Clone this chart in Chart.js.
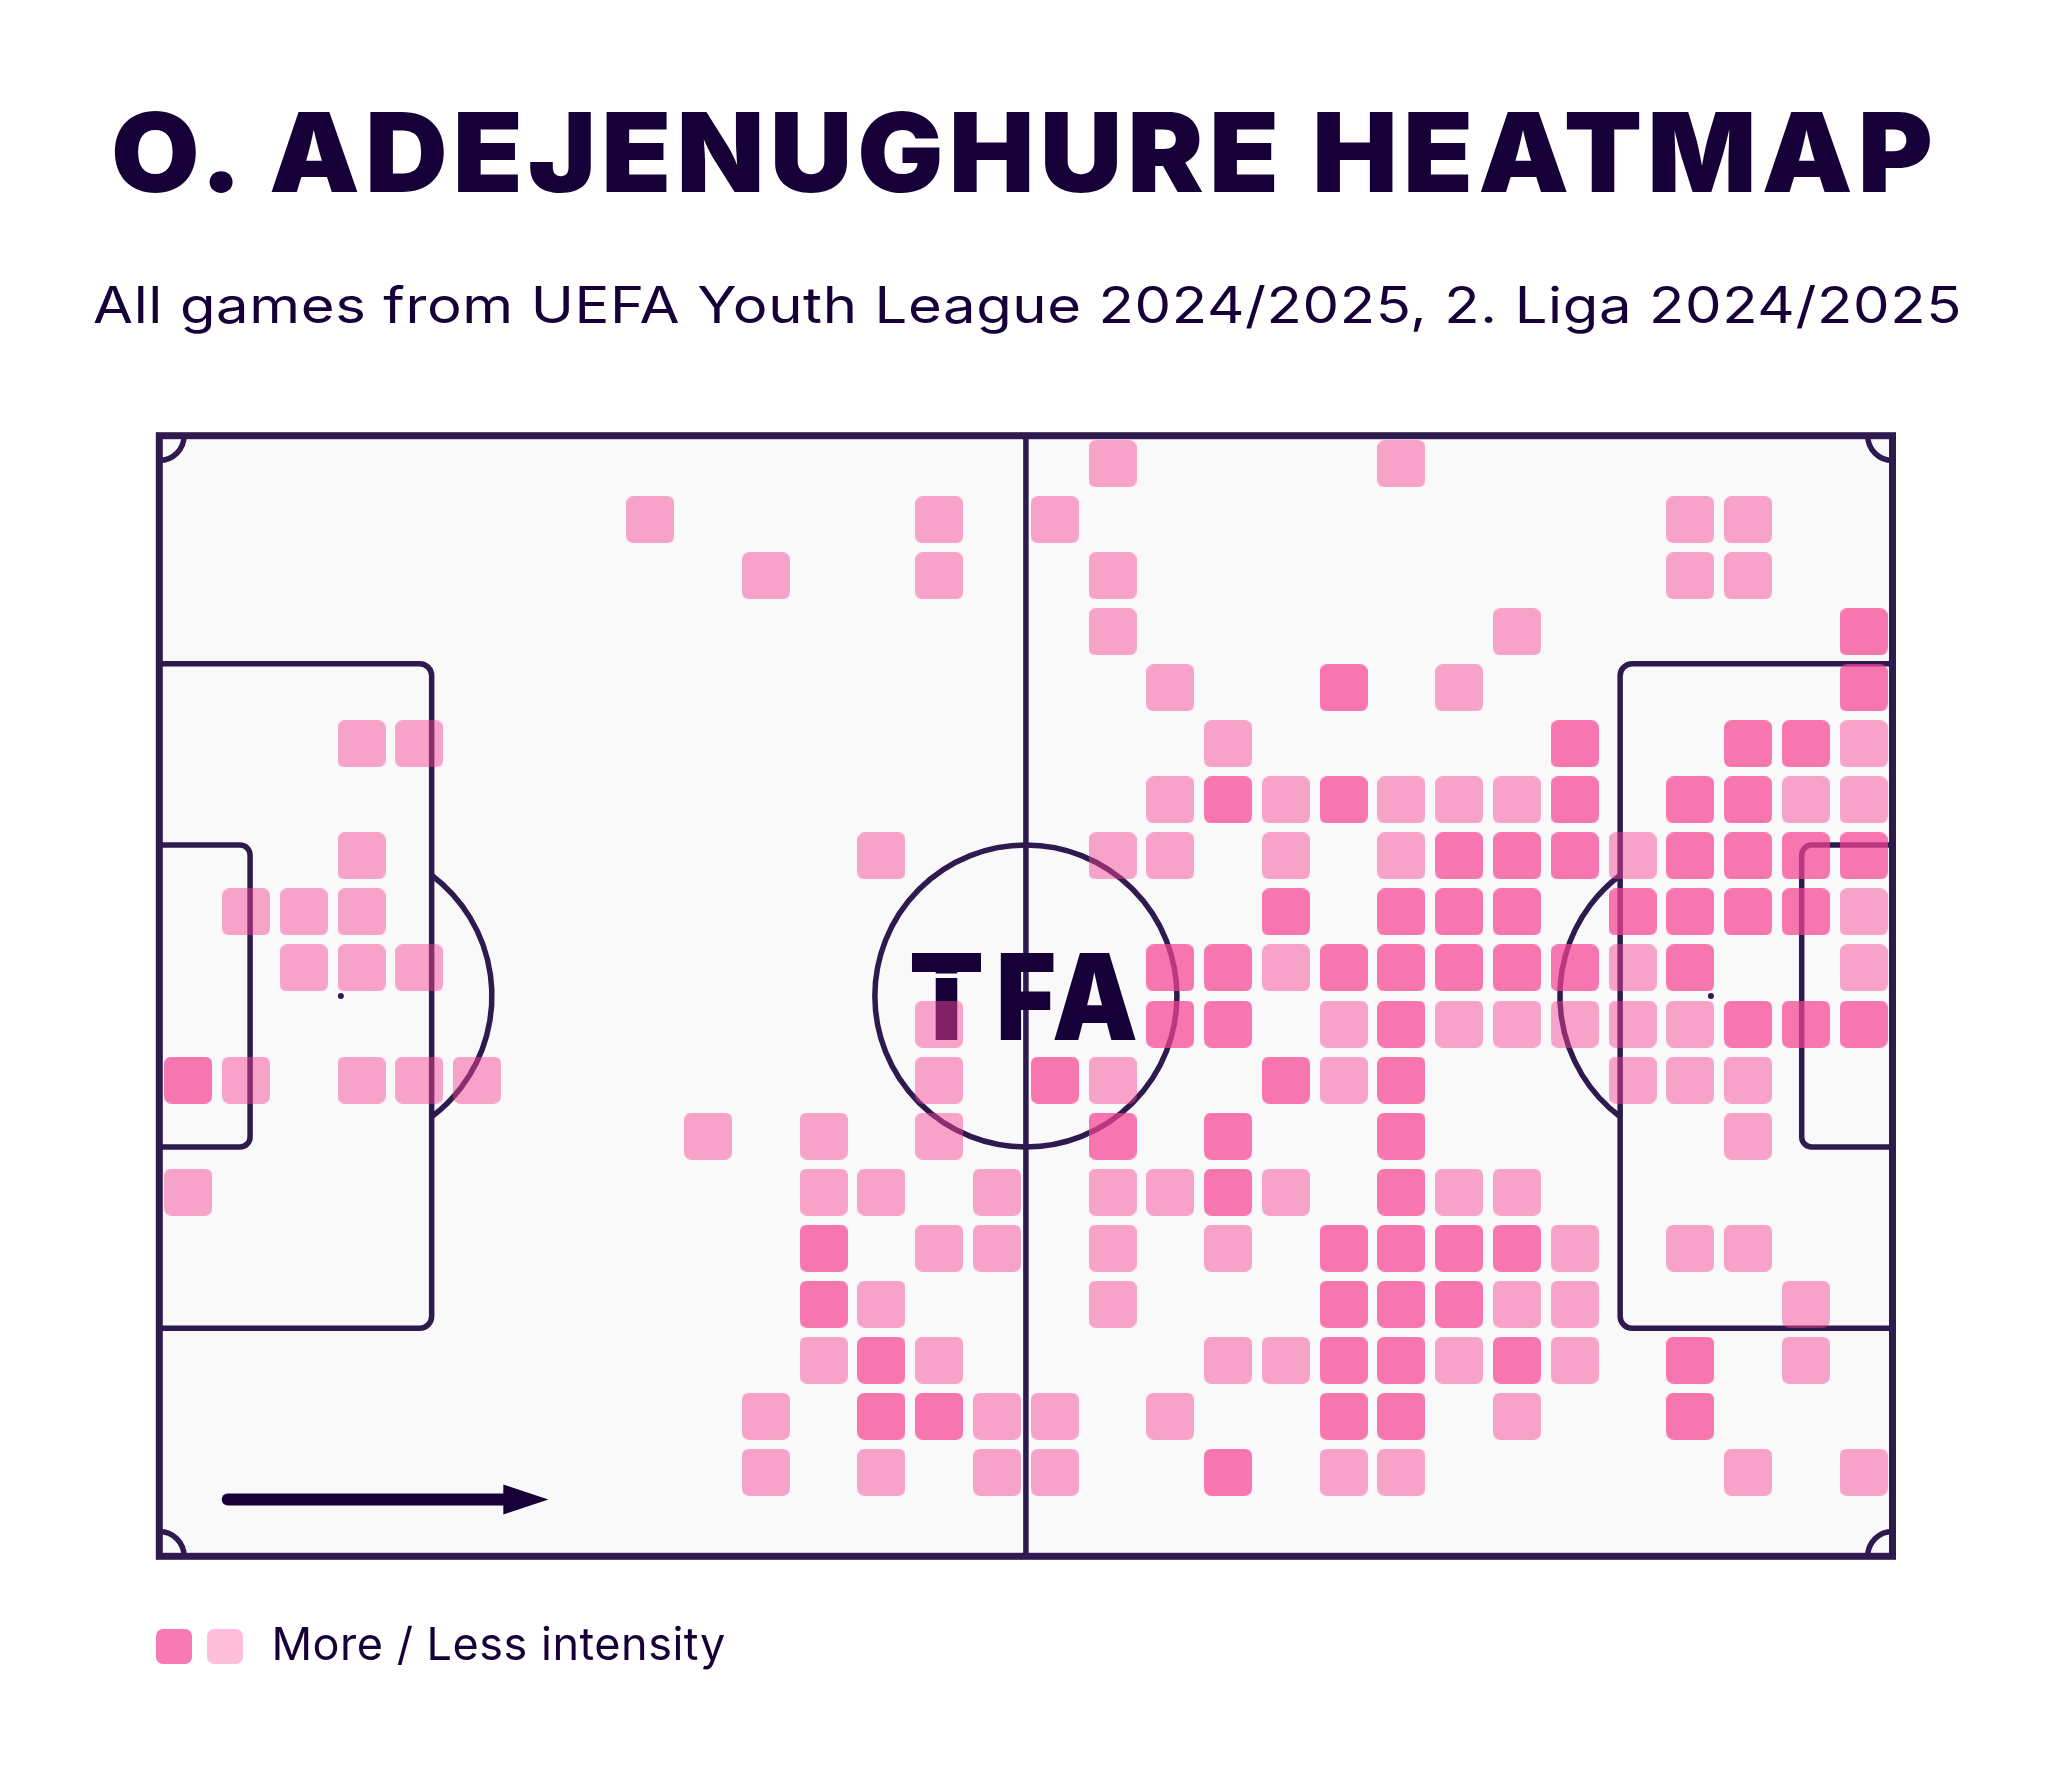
<!DOCTYPE html>
<html>
<head>
<meta charset="utf-8">
<script src="https://cdn.jsdelivr.net/npm/chart.js@4.4.1/dist/chart.umd.min.js"></script>
<style>
html,body{margin:0;padding:0;background:#ffffff;width:2052px;height:1779px;overflow:hidden;}
#wrap{position:relative;width:2052px;height:1779px;}
#c{position:absolute;left:0;top:0;}
.txt{position:absolute;white-space:nowrap;color:#170038;font-family:Inter,"Noto Sans",sans-serif;line-height:1;transform-origin:0 0;}
#title{font-weight:900;font-size:110px;}
#subtitle{font-weight:400;font-size:50px;}
#legendText{font-weight:400;font-size:45px;}
.sw{position:absolute;width:36px;height:35px;border-radius:7px;}
</style>
</head>
<body>
<div id="wrap">
  <canvas id="c" width="2052" height="1779"></canvas>
  <div id="title" class="txt">O. ADEJENUGHURE HEATMAP</div>
  <div id="subtitle" class="txt">All games from UEFA Youth League 2024/2025, 2. Liga 2024/2025</div>
  <div class="sw" style="left:156px;top:1629px;background:#f87ab4"></div>
  <div class="sw" style="left:207px;top:1629px;background:#fdbfdb"></div>
  <div id="legendText" class="txt">More / Less intensity</div>
</div>
<script>
// ---------------- DATA ----------------
const pitchLength = 105;   // metres
const pitchWidth = 68;     // metres
const gridCols = 30;
const gridRows = 20;

// column indices (0 = left goal line) of high-intensity cells, one list per row (0 = top)
const moreCells = [
  [], [], [],
  [29],
  [20, 29],
  [24, 27, 28],
  [18, 20, 24, 26, 27],
  [22, 23, 24, 26, 27, 28, 29],
  [19, 21, 22, 23, 25, 26, 27, 28],
  [17, 18, 20, 21, 22, 23, 24, 26],
  [17, 18, 21, 27, 28, 29],
  [0, 15, 19, 21],
  [16, 18, 21],
  [18, 21],
  [11, 20, 21, 22, 23],
  [11, 20, 21, 22],
  [12, 20, 21, 23, 26],
  [12, 13, 20, 21, 26],
  [18]
];

// column indices of low-intensity cells, one list per row
const lessCells = [
  [16, 21],
  [8, 13, 15, 26, 27],
  [10, 13, 16, 26, 27],
  [16, 23],
  [17, 22],
  [3, 4, 18, 29],
  [17, 19, 21, 22, 23, 28, 29],
  [3, 12, 16, 17, 19, 21, 25],
  [1, 2, 3, 29],
  [2, 3, 4, 19, 25, 29],
  [13, 20, 22, 23, 24, 25, 26],
  [1, 3, 4, 5, 13, 16, 20, 25, 26, 27],
  [9, 11, 13, 27],
  [0, 11, 12, 14, 16, 17, 19, 22, 23],
  [13, 14, 16, 18, 24, 26, 27],
  [12, 16, 23, 24, 28],
  [11, 13, 18, 19, 22, 24, 28],
  [10, 14, 15, 17, 23],
  [10, 12, 14, 15, 20, 21, 27, 29]
];

// ---------------- STYLE ----------------
const LINE = '#2e1a4f';
const INK = '#170038';
const PITCH_BG = '#f9f9f9';

function toPoints(rows) {
  const pts = [];
  rows.forEach((cols, r) => cols.forEach(c => {
    pts.push({ x: (c + 0.5) * pitchLength / gridCols, y: (r + 0.5) * pitchWidth / gridRows });
  }));
  return pts;
}

function cellImage(color, w, h, rad) {
  const cv = document.createElement('canvas');
  cv.width = w; cv.height = h;
  const g = cv.getContext('2d');
  g.fillStyle = color;
  g.beginPath();
  g.moveTo(rad, 0);
  g.lineTo(w - rad, 0);
  g.quadraticCurveTo(w, 0, w, rad);
  g.lineTo(w, h - rad);
  g.quadraticCurveTo(w, h, w - rad, h);
  g.lineTo(rad, h);
  g.quadraticCurveTo(0, h, 0, h - rad);
  g.lineTo(0, rad);
  g.quadraticCurveTo(0, 0, rad, 0);
  g.closePath();
  g.fill();
  return cv;
}

const pitchPlugin = {
  id: 'pitch',
  beforeDatasetsDraw(chart) {
    const ctx = chart.ctx;
    const xs = chart.scales.x, ys = chart.scales.y;
    const X = v => xs.getPixelForValue(v);
    const Y = v => ys.getPixelForValue(v);
    const mx = (X(pitchLength) - X(0)) / pitchLength;
    const L = pitchLength, W = pitchWidth, cx = L / 2, cy = W / 2;

    ctx.save();
    ctx.fillStyle = PITCH_BG;
    ctx.fillRect(X(0), Y(0), X(L) - X(0), Y(W) - Y(0));

    ctx.strokeStyle = LINE;
    ctx.lineWidth = 5.5;
    ctx.lineCap = 'butt';

    // halfway line
    ctx.beginPath(); ctx.moveTo(X(cx), Y(0)); ctx.lineTo(X(cx), Y(W)); ctx.stroke();
    // centre circle
    ctx.beginPath(); ctx.arc(X(cx), Y(cy), 9.15 * mx, 0, Math.PI * 2); ctx.stroke();
    ctx.fillStyle = LINE;
    ctx.beginPath(); ctx.arc(X(cx), Y(cy), 4, 0, Math.PI * 2); ctx.fill();

    function box(depth, halfW, r) {
      ctx.beginPath();
      ctx.moveTo(X(0), Y(cy - halfW));
      ctx.arcTo(X(depth), Y(cy - halfW), X(depth), Y(cy + halfW), r);
      ctx.arcTo(X(depth), Y(cy + halfW), X(0), Y(cy + halfW), r);
      ctx.lineTo(X(0), Y(cy + halfW));
      ctx.stroke();
      ctx.beginPath();
      ctx.moveTo(X(L), Y(cy - halfW));
      ctx.arcTo(X(L - depth), Y(cy - halfW), X(L - depth), Y(cy + halfW), r);
      ctx.arcTo(X(L - depth), Y(cy + halfW), X(L), Y(cy + halfW), r);
      ctx.lineTo(X(L), Y(cy + halfW));
      ctx.stroke();
    }
    box(16.5, 20.16, 12);
    box(5.5, 9.16, 10);

    // penalty spots
    ctx.beginPath(); ctx.arc(X(11), Y(cy), 3, 0, Math.PI * 2); ctx.fill();
    ctx.beginPath(); ctx.arc(X(L - 11), Y(cy), 3, 0, Math.PI * 2); ctx.fill();
    // penalty arcs
    const a = Math.acos(5.5 / 9.15);
    ctx.beginPath(); ctx.arc(X(11), Y(cy), 9.15 * mx, -a, a); ctx.stroke();
    ctx.beginPath(); ctx.arc(X(L - 11), Y(cy), 9.15 * mx, Math.PI - a, Math.PI + a); ctx.stroke();

    // corner arcs
    const cr = 1.5 * mx;
    ctx.beginPath(); ctx.arc(X(0), Y(0), cr, 0, Math.PI / 2); ctx.stroke();
    ctx.beginPath(); ctx.arc(X(L), Y(0), cr, Math.PI / 2, Math.PI); ctx.stroke();
    ctx.beginPath(); ctx.arc(X(0), Y(W), cr, -Math.PI / 2, 0); ctx.stroke();
    ctx.beginPath(); ctx.arc(X(L), Y(W), cr, Math.PI, Math.PI * 1.5); ctx.stroke();

    // outer boundary
    ctx.lineWidth = 7;
    ctx.strokeRect(X(0), Y(0), X(L) - X(0), Y(W) - Y(0));

    // direction arrow
    ctx.strokeStyle = INK; ctx.fillStyle = INK;
    ctx.lineWidth = 12; ctx.lineCap = 'round';
    const ay = Y(64.55);
    ctx.beginPath(); ctx.moveTo(X(3.78) + 6, ay); ctx.lineTo(X(20.9), ay); ctx.stroke();
    ctx.beginPath();
    ctx.moveTo(X(20.84), ay - 15); ctx.lineTo(X(23.57), ay); ctx.lineTo(X(20.84), ay + 15);
    ctx.closePath(); ctx.fill();

    // TFA logo in centre
    const px = X(cx), py = Y(cy);
    ctx.font = '900 120px Inter, "Noto Sans", sans-serif';
    ctx.textBaseline = 'alphabetic';
    ctx.textAlign = 'left';
    ctx.fillStyle = INK;
    ctx.fillText('T', px - 117, py + 44, 75);
    ctx.fillText('F', px - 30, py + 44, 60);
    ctx.fillText('A', px + 26, py + 44, 86);
    // stencil gap in the T
    ctx.fillStyle = PITCH_BG;
    ctx.fillRect(px - 115, py - 22.5, 75, 4.5);
    ctx.restore();
  }
};

const chart = new Chart(document.getElementById('c'), {
  type: 'scatter',
  data: {
    datasets: [
      {
        label: 'More intensity',
        data: toPoints(moreCells),
        pointStyle: cellImage('rgba(245,66,147,0.72)', 48, 47, 8),
        pointRadius: 24,
        pointHoverRadius: 24
      },
      {
        label: 'Less intensity',
        data: toPoints(lessCells),
        pointStyle: cellImage('rgba(245,66,147,0.48)', 48, 47, 8),
        pointRadius: 24,
        pointHoverRadius: 24
      }
    ]
  },
  options: {
    responsive: false,
    animation: false,
    events: [],
    layout: { padding: { left: 159.3, right: 159.5, top: 435.7, bottom: 222.7 } },
    plugins: { legend: { display: false }, tooltip: { enabled: false }, title: { display: false } },
    scales: {
      x: { type: 'linear', min: 0, max: pitchLength, display: false },
      y: { type: 'linear', min: 0, max: pitchWidth, reverse: true, display: false }
    }
  },
  plugins: [pitchPlugin]
});

// ---------------- TEXT PLACEMENT ----------------
function fitText(id, left, right, baseline, sx) {
  const el = document.getElementById(id);
  el.style.left = '0px'; el.style.top = '0px'; el.style.letterSpacing = '0px';
  el.style.transform = 'scaleX(' + sx + ')';
  const text = el.textContent;
  const cs = getComputedStyle(el);
  const mctx = document.createElement('canvas').getContext('2d');
  mctx.font = cs.fontWeight + ' ' + cs.fontSize + ' ' + cs.fontFamily;
  const m = mctx.measureText(text);
  const inkW = m.actualBoundingBoxLeft + m.actualBoundingBoxRight;
  const ls = ((right - left) / sx - inkW) / (text.length - 1);
  el.style.letterSpacing = ls + 'px';
  el.style.left = (left + sx * m.actualBoundingBoxLeft) + 'px';
  const marker = document.createElement('span');
  marker.style.display = 'inline-block';
  marker.style.width = '0px';
  marker.style.height = '0px';
  marker.style.verticalAlign = 'baseline';
  el.appendChild(marker);
  const base = marker.getBoundingClientRect().top - el.getBoundingClientRect().top;
  el.style.top = (baseline - base) + 'px';
}
fitText('title', 114, 1937, 192, 1.04);
fitText('subtitle', 94.5, 1959, 322.5, 1.16);
fitText('legendText', 274.4, 725, 1660, 1.0);
</script>
</body>
</html>
